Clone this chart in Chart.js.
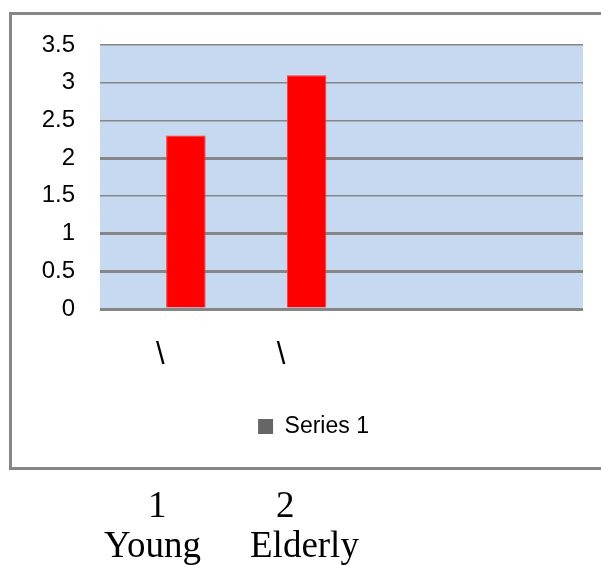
<!DOCTYPE html>
<html>
<head>
<meta charset="utf-8">
<script src="https://cdn.jsdelivr.net/npm/chart.js@4"></script>
<style>
  html, body { margin: 0; padding: 0; background: #fff; }
  body { width: 601px; height: 565px; position: relative; overflow: hidden; }
  #frame { position: absolute; left: 9px; top: 12px; width: 620px; height: 452px; border: 3px solid #878787; }
  #wrap { position: absolute; left: 0; top: 0; width: 601px; height: 565px; }
  .below { position: absolute; font-family: "Liberation Serif", "Times New Roman", serif; font-size: 37px; color: #000; line-height: 40px; white-space: nowrap; }
</style>
</head>
<body>
<div id="frame"></div>
<div id="wrap"><canvas id="chart"></canvas></div>
<div class="below" style="left:148px; top:485px;">1</div>
<div class="below" style="left:104px; top:525px;">Young</div>
<div class="below" style="left:276px; top:485px;">2</div>
<div class="below" style="left:250px; top:525px;">Elderly</div>
<script>
  // chart values
  const categories = ['\\', '\\', '', '']
  const series1 = [2.3, 3.1, null, null]
  const spacer = [null, null, null, null]
  const yTicks = [0, 0.5, 1, 1.5, 2, 2.5, 3, 3.5]
  const thickLines = [0, 0.5, 1, 2]

  const plotBackground = {
    id: 'plotBackground',
    beforeDraw(chart) {
      const { ctx, chartArea } = chart
      ctx.save()
      ctx.fillStyle = '#c6d9f1'
      ctx.fillRect(chartArea.left, chartArea.top, chartArea.right - chartArea.left, chartArea.bottom - chartArea.top)
      ctx.restore()
    }
  }

  // nudge the legend to the right like the original
  const legendShift = {
    id: 'legendShift',
    afterLayout(chart) {
      chart.legend.left += 44
    }
  }

  const data = {
    labels: categories,
    datasets: [{
      label: '',
      data: spacer,
      backgroundColor: 'rgba(0,0,0,0)'
    }, {
      label: 'Series 1',
      data: series1,
      backgroundColor: '#ff0000',
      borderColor: '#ff3b3b',
      borderWidth: 1
    }]
  }

  const config = {
    type: 'bar',
    data: data,
    plugins: [plotBackground, legendShift],
    options: {
      responsive: false,
      animation: false,
      categoryPercentage: 0.845,
      barPercentage: 0.775,
      layout: { padding: { top: 45, right: 18, bottom: 117, left: 0 } },
      plugins: {
        tooltip: { enabled: false },
        legend: {
          position: 'bottom',
          labels: {
            font: { family: 'Liberation Sans, Arial, sans-serif', size: 23 },
            color: '#000',
            boxWidth: 15,
            boxHeight: 15,
            filter: item => item.text !== '',
            generateLabels(chart) {
              const items = Chart.defaults.plugins.legend.labels.generateLabels(chart)
              items.forEach(it => { it.fillStyle = '#666666'; it.strokeStyle = '#666666'; it.lineWidth = 0 })
              return items
            }
          }
        }
      },
      scales: {
        x: {
          grid: { display: false, drawTicks: false },
          border: { display: false },
          ticks: {
            padding: 28,
            color: '#000',
            font: { family: 'Liberation Sans, Arial, sans-serif', size: 31 },
            maxRotation: 0,
            autoSkip: false
          },
          afterFit(scale) { scale.height = 96 }
        },
        y: {
          min: 0,
          max: 3.5,
          afterBuildTicks(scale) { scale.ticks = yTicks.map(v => ({ value: v })) },
          grid: {
            color: '#868686',
            drawTicks: false,
            lineWidth: ctx => thickLines.includes(ctx.tick.value) ? 3 : 1.5
          },
          border: { display: false },
          ticks: {
            padding: 25,
            color: '#000',
            font: { family: 'Liberation Sans, Arial, sans-serif', size: 24 },
            callback: v => String(v)
          },
          afterFit(scale) { scale.width = 100 }
        }
      }
    }
  }

  const canvas = document.getElementById('chart')
  canvas.width = 601
  canvas.height = 565
  new Chart(canvas, config)
</script>
</body>
</html>
